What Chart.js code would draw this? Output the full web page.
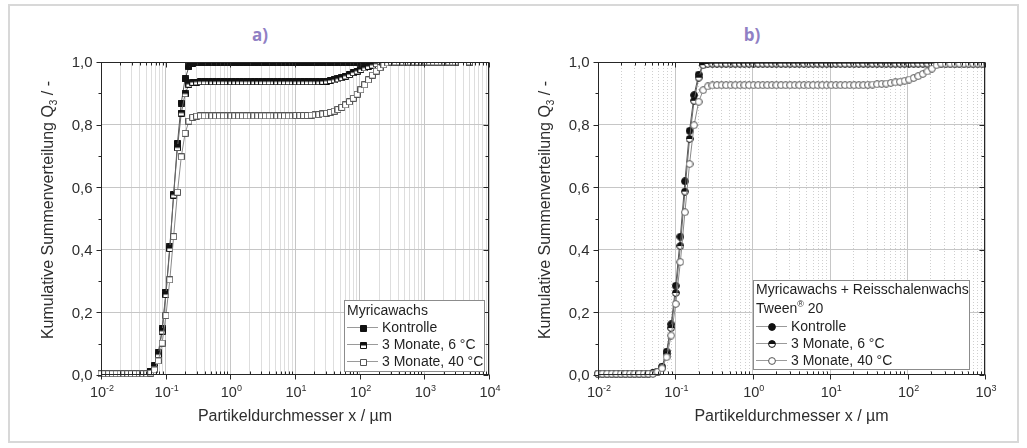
<!DOCTYPE html>
<html lang="de">
<head>
  <meta charset="UTF-8">
  <title>Kumulative Summenverteilung</title>
  <script src="https://cdn.jsdelivr.net/npm/chart.js"></script>
  <style>
    body {
      margin: 0;
      background: #fff;
    }

    .wrap {
      position: relative;
      width: 1027px;
      height: 448px;
      overflow: hidden;
    }

    .frame {
      position: absolute;
      left: 8px;
      top: 4px;
      width: 1007px;
      height: 435px;
      border: 2px solid #d8d8d8;
    }

    canvas {
      position: absolute;
      left: 0;
      top: 0;
    }

    .panel-label {
      position: absolute;
      top: 23px;
      line-height: 23px;
      font: bold 17px 'Open Sans', sans-serif;
      color: #9080c4;
      transform: translateX(-50%);
    }
  </style>
</head>
<body>

  <div class="wrap">
    <div class="frame"></div>
    <div class="panel-label" style="left: 260px">a)</div>
    <div class="panel-label" style="left: 752px">b)</div>
    <canvas id="chartA" width="1027" height="448"></canvas>
    <canvas id="chartB" width="1027" height="448"></canvas>
  </div>

  <script>
    // Partikelgrößenklassen (µm), gemeinsam für alle Messungen
    const sizeClasses = [
      0.01, 0.0114, 0.0131, 0.015, 0.0172, 0.0197, 0.0226, 0.0259, 0.0296, 0.034,
      0.039, 0.0446, 0.0511, 0.0586, 0.0672, 0.077, 0.0882, 0.101, 0.1159, 0.1328,
      0.1522, 0.1743, 0.1997, 0.2289, 0.2622, 0.3005, 0.3443, 0.3945, 0.452, 0.5179,
      0.5934, 0.6799, 0.779, 0.8926, 1.0227, 1.1719, 1.3427, 1.5385, 1.7627, 2.0197,
      2.3141, 2.6514, 3.038, 3.4809, 3.9883, 4.5697, 5.2358, 5.9991, 6.8737, 7.8757,
      9.0238, 10.339, 11.847, 13.574, 15.552, 17.819, 20.417, 23.393, 26.803, 30.711,
      35.188, 40.317, 46.194, 52.928, 60.644, 69.484, 79.613, 91.219, 104.51, 119.75,
      137.2, 157.21, 180.12, 206.38, 236.47, 270.94, 310.44, 355.69, 407.54, 466.95,
      535.02, 613.02, 702.38, 804.78, 922.1, 1056.5, 1210.5, 1387, 1589.1, 1820.8,
      2086.2, 2390.4, 2738.8, 3000, 5000
    ];

    const seriesNames = ['Kontrolle', '3 Monate, 6 °C', '3 Monate, 40 °C'];

    // a) Myricawachs
    const myricaKontrolle = [
      0.004, 0.004, 0.004, 0.004, 0.004, 0.004, 0.004, 0.004, 0.004, 0.004,
      0.004, 0.004, 0.006, 0.012, 0.030, 0.071, 0.147, 0.265, 0.409, 0.577,
      0.740, 0.869, 0.946, 0.985, 0.995, 0.997, 0.997, 0.997, 0.997, 0.997,
      0.997, 0.997, 0.997, 0.997, 0.997, 0.997, 0.997, 0.997, 0.997, 0.997,
      0.997, 0.997, 0.997, 0.997, 0.997, 0.997, 0.997, 0.997, 0.997, 0.997,
      0.997, 0.997, 0.997, 0.997, 0.997, 0.997, 0.997, 0.997, 0.998, 0.998,
      0.998, 0.998, 0.998, 0.998, 0.998, 0.998, 0.998, 0.998, 1, 1,
      1, 1, 1, 1, 1, 1, 1, 1, 1, 1,
      1, 1, 1, 1, 1, 1, 1, 1, 1, 1,
      1, 1, 1, 1, 1
    ];
    const myrica6C = [
      0.004, 0.004, 0.004, 0.004, 0.004, 0.004, 0.004, 0.004, 0.004, 0.004,
      0.004, 0.004, 0.005, 0.010, 0.025, 0.065, 0.140, 0.257, 0.404, 0.575,
      0.726, 0.837, 0.898, 0.929, 0.935, 0.936, 0.937, 0.937, 0.937, 0.937,
      0.937, 0.937, 0.937, 0.937, 0.937, 0.937, 0.937, 0.937, 0.937, 0.937,
      0.937, 0.937, 0.937, 0.937, 0.937, 0.937, 0.937, 0.937, 0.937, 0.937,
      0.937, 0.937, 0.937, 0.937, 0.937, 0.937, 0.937, 0.937, 0.938, 0.939,
      0.941, 0.943, 0.946, 0.950, 0.955, 0.960, 0.966, 0.971, 0.976, 0.981,
      0.986, 0.990, 0.994, 0.997, 0.999, 1, 1, 1, 1, 1,
      1, 1, 1, 1, 1, 1, 1, 1, 1, 1,
      1, 1, 1, 1, 1
    ];
    const myrica40C = [
      0.004, 0.004, 0.004, 0.004, 0.004, 0.004, 0.004, 0.004, 0.004, 0.004,
      0.004, 0.004, 0.004, 0.006, 0.016, 0.045, 0.102, 0.190, 0.304, 0.442,
      0.584, 0.697, 0.772, 0.811, 0.823, 0.827, 0.828, 0.828, 0.828, 0.828,
      0.828, 0.828, 0.828, 0.828, 0.828, 0.828, 0.828, 0.828, 0.828, 0.828,
      0.828, 0.828, 0.828, 0.828, 0.828, 0.828, 0.828, 0.828, 0.828, 0.828,
      0.828, 0.829, 0.829, 0.829, 0.829, 0.830, 0.831, 0.832, 0.834, 0.836,
      0.839, 0.843, 0.848, 0.855, 0.863, 0.873, 0.884, 0.897, 0.911, 0.927,
      0.943, 0.958, 0.971, 0.982, 0.991, 0.997, 1, 1, 1, 1,
      1, 1, 1, 1, 1, 1, 1, 1, 1, 1,
      1, 1, 1, 1, 1
    ];

    // b) Myricawachs + Reisschalenwachs, Tween 20
    const mixKontrolle = [
      0.004, 0.004, 0.004, 0.004, 0.004, 0.004, 0.004, 0.004, 0.004, 0.004,
      0.004, 0.004, 0.006, 0.011, 0.027, 0.075, 0.162, 0.285, 0.442, 0.619,
      0.780, 0.894, 0.960, 0.994, 0.997, 0.998, 0.998, 0.998, 0.998, 0.998,
      0.998, 0.998, 0.998, 0.998, 0.998, 0.998, 0.998, 0.998, 0.998, 0.998,
      0.998, 0.998, 0.998, 0.998, 0.998, 0.998, 0.998, 0.998, 0.998, 0.998,
      0.998, 0.998, 0.998, 0.998, 0.998, 0.998, 0.998, 0.998, 0.998, 0.998,
      0.998, 0.998, 0.998, 0.998, 0.998, 0.998, 0.998, 0.998, 0.998, 0.998,
      0.998, 0.998, 0.998, 0.998, 0.998, 0.999, 0.999, 0.999, 0.999, 0.999,
      0.999, 0.999, 0.999, 0.999, 0.999, 0.999
    ];
    const mix6C = [
      0.004, 0.004, 0.004, 0.004, 0.004, 0.004, 0.004, 0.004, 0.004, 0.004,
      0.004, 0.004, 0.005, 0.009, 0.022, 0.066, 0.150, 0.262, 0.412, 0.586,
      0.754, 0.876, 0.950, 0.990, 0.994, 0.995, 0.995, 0.995, 0.995, 0.995,
      0.995, 0.995, 0.995, 0.995, 0.995, 0.995, 0.995, 0.995, 0.995, 0.995,
      0.995, 0.995, 0.995, 0.995, 0.995, 0.995, 0.995, 0.995, 0.995, 0.995,
      0.995, 0.995, 0.995, 0.995, 0.995, 0.995, 0.995, 0.995, 0.995, 0.995,
      0.995, 0.995, 0.995, 0.995, 0.995, 0.995, 0.995, 0.995, 0.995, 0.995,
      0.995, 0.995, 0.995, 0.995, 0.995, 0.995, 0.995, 0.995, 0.995, 0.995,
      0.995, 0.995, 0.995, 0.995, 0.995, 0.995
    ];
    const mix40C = [
      0.004, 0.004, 0.004, 0.004, 0.004, 0.004, 0.004, 0.004, 0.004, 0.004,
      0.004, 0.004, 0.004, 0.010, 0.021, 0.057, 0.126, 0.227, 0.361, 0.520,
      0.674, 0.798, 0.873, 0.910, 0.922, 0.925, 0.926, 0.926, 0.926, 0.926,
      0.926, 0.926, 0.926, 0.926, 0.926, 0.926, 0.926, 0.926, 0.926, 0.926,
      0.926, 0.926, 0.926, 0.926, 0.926, 0.926, 0.926, 0.926, 0.926, 0.926,
      0.926, 0.926, 0.926, 0.926, 0.926, 0.926, 0.926, 0.926, 0.926, 0.927,
      0.928, 0.929, 0.930, 0.931, 0.933, 0.935, 0.937, 0.940, 0.944, 0.949,
      0.955, 0.962, 0.970, 0.979, 0.990, 0.995, 0.995, 0.995, 0.995, 0.995,
      0.995, 0.995, 0.995, 0.995, 0.995, 0.995
    ];

    const yTickValues = [0, 0.1, 0.2, 0.3, 0.4, 0.5, 0.6, 0.7, 0.8, 0.9, 1.0];

    const FONT = "'Liberation Sans', Arial, sans-serif";
    const TEXT = '#2e2e2e';

    const isDecade = v => Math.abs(Math.log10(v) - Math.round(Math.log10(v))) < 1e-9;

    // 1..9 x 10^n Teilstriche
    function logTicks(minExp, maxExp) {
      const out = [];
      for (let e = minExp; e < maxExp; e++) {
        for (let m = 1; m < 10; m++) out.push(+(m * Math.pow(10, e)).toPrecision(3));
      }
      out.push(Math.pow(10, maxExp));
      return out;
    }

    function makeMarker(shape, fill) {
      const size = shape === 'square' ? 7 : 8;
      const c = document.createElement('canvas');
      c.width = c.height = size;
      const g = c.getContext('2d');
      const m = size / 2;
      const path = () => {
        g.beginPath();
        if (shape === 'square') g.rect(0.5, 0.5, size - 1, size - 1);
        else g.arc(m, m, m - 0.6, 0, Math.PI * 2);
      };
      path();
      g.fillStyle = '#fff';
      g.fill();
      if (fill === 'full') {
        path();
        g.fillStyle = '#111';
        g.fill();
      }
      if (fill === 'half') {
        g.save();
        g.beginPath();
        g.rect(0, 0, size, m);
        g.clip();
        path();
        g.fillStyle = '#111';
        g.fill();
        g.restore();
      }
      path();
      g.strokeStyle = fill === 'none' ? '#555' : '#111';
      g.lineWidth = 1;
      g.stroke();
      return c;
    }

    function partFont(q, size) {
      return (q.sup || q.sub ? Math.round(size * 0.64) : size) + 'px ' + FONT;
    }

    function richWidth(ctx, parts, size) {
      let w = 0;
      parts.forEach(p => {
        const q = typeof p === 'string' ? {t: p} : p;
        ctx.font = partFont(q, size);
        w += ctx.measureText(q.t).width;
      });
      return w;
    }

    // y = Grundlinie
    function drawRich(ctx, parts, x, y, size, align) {
      let cx = align === 'center' ? x - richWidth(ctx, parts, size) / 2 : x;
      ctx.textAlign = 'left';
      ctx.textBaseline = 'alphabetic';
      parts.forEach(p => {
        const q = typeof p === 'string' ? {t: p} : p;
        ctx.font = partFont(q, size);
        const dy = q.sup ? -size * 0.42 : (q.sub ? size * 0.28 : 0);
        ctx.fillText(q.t, cx, y + dy);
        cx += ctx.measureText(q.t).width;
      });
    }

    function decorPlugin(p, styles) {
      return {
        id: 'decor',
        afterDatasetsDraw(chart) {
          const {ctx, chartArea: a} = chart;
          const xs = chart.scales.x, ys = chart.scales.y;
          const L = Math.round(a.left) + 0.5, R = Math.round(a.right) - 0.5;
          const T = Math.round(a.top) + 0.5, B = Math.round(a.bottom) - 0.5;
          ctx.save();

          // Achsenrahmen und Teilstriche
          ctx.strokeStyle = '#262626';
          ctx.lineWidth = 1;
          ctx.strokeRect(L, T, R - L, B - T);
          ctx.beginPath();
          p.xTicks.forEach(v => {
            const px = Math.round(xs.getPixelForValue(v)) + 0.5;
            if (isDecade(v)) {
              ctx.moveTo(px, B); ctx.lineTo(px, B + 5);
              ctx.moveTo(px, T); ctx.lineTo(px, T + 5);
            } else {
              ctx.moveTo(px, B); ctx.lineTo(px, B - 3);
              ctx.moveTo(px, T); ctx.lineTo(px, T + 3);
            }
          });
          yTickValues.forEach((v, i) => {
            const py = Math.round(ys.getPixelForValue(v)) + 0.5;
            const len = i % 2 === 0 ? 5 : 3;
            ctx.moveTo(L, py); ctx.lineTo(L - len, py);
            ctx.moveTo(R, py); ctx.lineTo(R - len, py);
          });
          ctx.stroke();

          // Achsenbeschriftung
          ctx.fillStyle = TEXT;
          ctx.font = '15px ' + FONT;
          ctx.textAlign = 'right';
          ctx.textBaseline = 'alphabetic';
          yTickValues.forEach((v, i) => {
            if (i % 2) return;
            ctx.fillText(v.toFixed(1).replace('.', ','), L - 9, ys.getPixelForValue(v) + 5.4);
          });
          p.xTicks.filter(isDecade).forEach(v => {
            const e = Math.round(Math.log10(v));
            drawRich(ctx, ['10', {t: String(e), sup: true}], xs.getPixelForValue(v) + 1, 397, 14.5, 'center');
          });

          drawRich(ctx, ['Partikeldurchmesser x / µm'], (a.left + a.right) / 2, 421, 16, 'center');

          ctx.save();
          ctx.translate(p.yTitleX, 210);
          ctx.rotate(-Math.PI / 2);
          drawRich(ctx, ['Kumulative Summenverteilung Q', {t: '3', sub: true}, ' / -'], 0, 5.5, 16, 'center');
          ctx.restore();

          // Legende im Diagramm
          const lg = p.legend;
          ctx.fillStyle = '#fff';
          ctx.fillRect(lg.box[0], lg.box[1], lg.box[2] - lg.box[0], lg.box[3] - lg.box[1]);
          ctx.strokeStyle = '#8c8c8c';
          ctx.strokeRect(lg.box[0] + 0.5, lg.box[1] + 0.5, lg.box[2] - lg.box[0], lg.box[3] - lg.box[1]);
          ctx.fillStyle = '#1f1f1f';
          lg.title.forEach((parts, i) => drawRich(ctx, parts, lg.textLeft, lg.titleY[i] + 5, 14, 'left'));
          seriesNames.forEach((name, i) => {
            const y = lg.rows[i];
            ctx.strokeStyle = '#9a9a9a';
            ctx.beginPath();
            ctx.moveTo(lg.line[0], Math.round(y) + 0.5);
            ctx.lineTo(lg.line[1], Math.round(y) + 0.5);
            ctx.stroke();
            const mk = styles[i].marker;
            ctx.drawImage(mk, Math.round(lg.markerX - mk.width / 2), Math.round(y - mk.height / 2) + 1);
            ctx.fillStyle = '#1f1f1f';
            drawRich(ctx, [name], lg.textX, y + 5, 14, 'left');
          });

          ctx.restore();
        }
      };
    }

    function makePanel(id, p) {
      const styles = [
        {marker: makeMarker(p.shape, 'full'), line: '#555', order: 2},
        {marker: makeMarker(p.shape, 'half'), line: '#666', order: 1},
        {marker: makeMarker(p.shape, 'none'), line: '#8a8a8a', order: 0}
      ];
      const datasets = p.series.map((vals, i) => ({
        label: seriesNames[i],
        data: vals.map((v, k) => ({x: sizeClasses[k], y: v})),
        showLine: true,
        tension: 0,
        borderColor: styles[i].line,
        borderWidth: 1,
        pointStyle: styles[i].marker,
        pointRadius: 4,
        order: styles[i].order,
        clip: p.clip
      }));

      return new Chart(document.getElementById(id), {
        type: 'scatter',
        data: {datasets},
        options: {
          responsive: false,
          animation: false,
          devicePixelRatio: 1,
          events: [],
          layout: {padding: p.padding},
          plugins: {
            legend: {display: false},
            tooltip: {enabled: false}
          },
          scales: {
            x: {
              type: 'logarithmic',
              min: p.xMin,
              max: p.xMax,
              afterBuildTicks: s => { s.ticks = p.xTicks.map(v => ({value: v})); },
              afterFit: s => { s.height = 73; },
              ticks: {display: false, autoSkip: false},
              grid: {
                drawTicks: false,
                color: c => (c.tick && isDecade(c.tick.value)) ? p.gridMajor : p.gridMinor
              },
              border: {
                display: false,
                dash: c => (p.dottedMinor && c.tick && !isDecade(c.tick.value)) ? [1, 2] : []
              }
            },
            y: {
              min: 0,
              max: 1,
              afterBuildTicks: s => { s.ticks = [0.2, 0.4, 0.6, 0.8].map(v => ({value: v})); },
              afterFit: s => { s.width = p.yWidth; },
              ticks: {display: false},
              grid: {drawTicks: false, color: p.gridMajor},
              border: {display: false}
            }
          }
        },
        plugins: [decorPlugin(p, styles)]
      });
    }

    makePanel('chartA', {
      series: [myricaKontrolle, myrica6C, myrica40C],
      shape: 'square',
      xMin: 0.01,
      xMax: 10000,
      xTicks: logTicks(-2, 4),
      padding: {left: 0, top: 62, right: 538, bottom: 0},
      yWidth: 101,
      yTitleX: 47,
      gridMajor: '#c6c6c6',
      gridMinor: '#dedede',
      dottedMinor: false,
      clip: {left: 5, top: 0, right: 5, bottom: 5},
      legend: {
        box: [344, 300, 484, 371],
        title: [['Myricawachs']],
        titleY: [310],
        textLeft: 347,
        rows: [327, 344, 361],
        line: [347, 378],
        markerX: 363,
        textX: 382
      }
    });

    makePanel('chartB', {
      series: [mixKontrolle, mix6C, mix40C],
      shape: 'circle',
      xMin: 0.01,
      xMax: 1000,
      xTicks: logTicks(-2, 3),
      padding: {left: 500, top: 62, right: 42, bottom: 0},
      yWidth: 98,
      yTitleX: 544,
      gridMajor: '#c6c6c6',
      gridMinor: '#cfcfcf',
      dottedMinor: true,
      clip: {left: 5, top: 0, right: 0, bottom: 5},
      legend: {
        box: [753, 280, 969, 369],
        title: [['Myricawachs + Reisschalenwachs'], ['Tween', {t: '®', sup: true}, ' 20']],
        titleY: [289, 308],
        textLeft: 756,
        rows: [326, 343, 359.5],
        line: [756, 787],
        markerX: 772,
        textX: 791
      }
    });
  </script>

</body>
</html>
